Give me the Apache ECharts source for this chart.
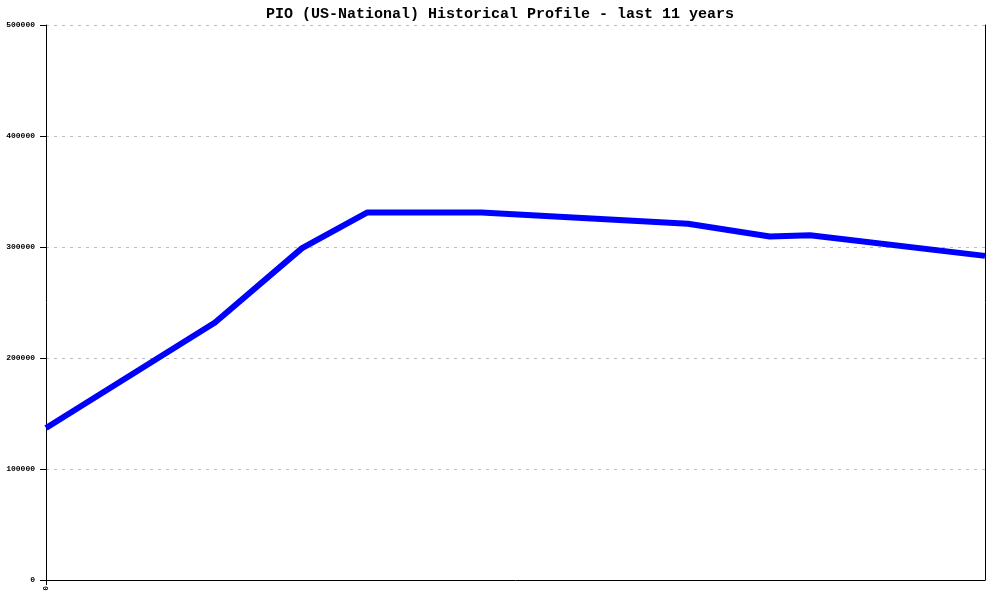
<!DOCTYPE html>
<html><head><meta charset="utf-8">
<script src="https://cdn.jsdelivr.net/npm/echarts@6/dist/echarts.min.js"></script>
<style>html,body{margin:0;padding:0;background:#fff}#c{width:1000px;height:600px}</style>
</head><body><div id="c"></div>
<script>
const titleText = 'PIO (US-National) Historical Profile - last 11 years';
// x in years since start, y = value
const years = [0, 1.98, 3.0, 3.76, 5.1, 7.52, 8.48, 8.95, 11];
const values = [137000, 232000, 299000, 331000, 331000, 321000, 309500, 310500, 292000];
const yTicks = [0, 100000, 200000, 300000, 400000, 500000];

const chart = echarts.init(document.getElementById('c'));
const font = 'Liberation Mono, DejaVu Sans Mono, monospace';
chart.setOption({
  animation: false,
  title: { text: titleText, left: 'center', top: 2,
    textStyle: { fontFamily: font, fontSize: 15, fontWeight: 'bold', color: '#000' } },
  grid: { left: 46, right: 15, top: 25, bottom: 20 },
  xAxis: { type: 'value', min: 0, max: 11,
    axisLine: { show: true, lineStyle: { color: '#000', width: 1 } },
    axisTick: { show: true, length: 5, customValues: [0], lineStyle: { color: '#000' } },
    axisLabel: { customValues: [0], rotate: 90, margin: 6, fontFamily: font, fontSize: 8, fontWeight: 'bold', color: '#000', formatter: v => String(v) },
    splitLine: { show: false } },
  yAxis: [{ type: 'value', min: 0, max: 500000, interval: 100000,
    axisLine: { show: true, lineStyle: { color: '#000', width: 1 } },
    axisTick: { show: true, length: 6, lineStyle: { color: '#000' } },
    axisLabel: { margin: 11, fontFamily: font, fontSize: 8, fontWeight: 'bold', color: '#000',
      customValues: yTicks, formatter: v => String(v) },
    splitLine: { show: true, lineStyle: { color: '#bbb', type: [3, 5], width: 1 } } },
   { type: 'value', min: 0, max: 500000, position: 'right',
    axisLine: { show: true, lineStyle: { color: '#000', width: 1 } },
    axisTick: { show: false }, axisLabel: { show: false }, splitLine: { show: false } }],
  series: [{ type: 'line', data: years.map((x, i) => [x, values[i]]),
    symbol: 'none', lineStyle: { color: '#0000ff', width: 6 }, z: 3 }]
});
</script></body></html>
